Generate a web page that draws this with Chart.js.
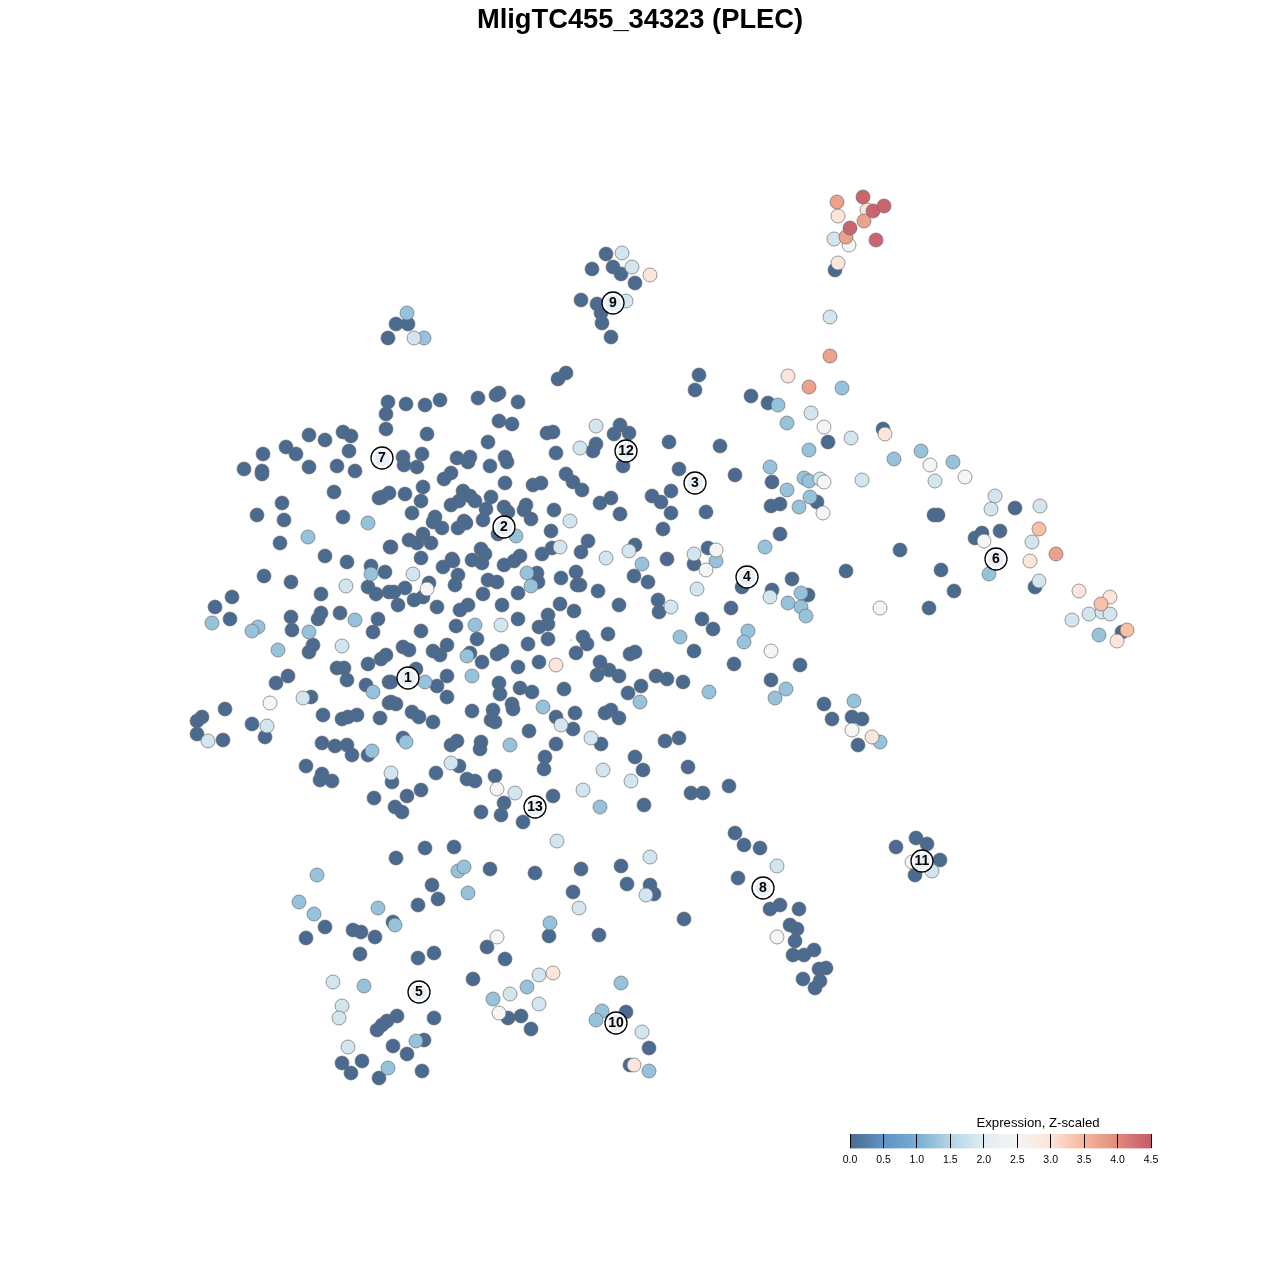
<!DOCTYPE html>
<html><head><meta charset="utf-8">
<style>html,body{margin:0;padding:0;background:#fff}canvas{position:absolute;display:block}</style>
<script src="https://cdn.jsdelivr.net/npm/chart.js@4/dist/chart.umd.min.js"></script>
</head><body>
<canvas id="main" width="1280" height="1280" style="left:0;top:0"></canvas>
<canvas id="cbar" width="416" height="59" style="left:830px;top:1112px"></canvas>
<script>
const chartTitle = "MligTC455_34323 (PLEC)";
const legendTitle = "Expression, Z-scaled";
const legendTicks = [0,0.5,1,1.5,2,2.5,3,3.5,4,4.5];
const legendColors = ["#4a6a90","#5f93c4","#78aed1","#b3d5e6","#e0ecf3","#f5f5f5","#fde3d8","#f5b79b","#e08a7c","#c45a6a"];
const clusterNames = ["1","2","3","4","5","6","7","8","9","10","11","12","13"];
const clusterX = [408,504,695,747,419,996,382,763,613,616,922,626,535];
const clusterY = [678,527,483,577,992,559,458,888,303,1023,861,451,807];
const seriesLevels = [0,1.25,1.85,2.5,2.95,3.4,3.75,4.4];
const expr005 = [[244,469],[263,454],[262,471],[262,474],[286,447],[296,454],[309,435],[325,440],[343,432],[351,436],[349,451],[309,467],[337,466],[355,471],[334,492],[379,498],[382,497],[282,503],[257,515],[284,520],[343,517],[280,543],[325,556],[347,562],[371,566],[385,572],[264,576],[291,582],[368,587],[376,594],[391,547],
[388,402],[406,404],[425,405],[440,400],[386,414],[386,429],[427,434],[478,398],[496,395],[499,393],[518,402],[499,421],[512,424],[547,433],[553,432],[488,442],[556,453],[403,457],[404,465],[422,454],[417,467],[457,458],[468,462],[470,457],[490,466],[505,457],[507,462],[566,474],[573,482],[451,473],[444,479],[505,483],[533,485],[541,483],[423,487],[389,493],[405,494],[421,501],[463,491],[470,496],[459,501],[451,505],[475,501],[491,497],[486,509],[504,507],[508,512],[526,505],[524,510],[531,519],[554,510],[412,513],[435,517],[433,522],[442,528],[458,528],[464,521],[466,523],[483,520],[498,534],[551,531],[423,534],[409,540],[417,543],[431,543],[390,547],[421,558],[443,567],[452,559],[453,561],[472,560],[481,549],[485,554],[482,563],[504,565],[514,561],[520,556],[542,554],[552,548],[458,575],[537,573],[561,578],[576,572],[488,580],[497,582],[429,583],
[620,425],[614,434],[629,433],[596,444],[593,451],[623,466],[669,442],[720,446],[679,469],[735,475],[671,491],[652,496],[661,502],[671,513],[706,512],[620,514],[611,498],[600,503],[582,490],[663,529],[588,541],[581,552],[635,545],[667,559],[708,548],[694,564],[580,585],[598,591],[634,576],[648,582],[658,600],[659,612],[619,605],[742,587],[772,590],[772,482],[771,506],[751,396],[768,403],
[232,597],[215,607],[230,619],[291,617],[292,630],[321,594],[318,619],[321,613],[340,613],[378,619],[373,632],[313,645],[309,652],[389,592],[337,668],[344,668],[347,680],[368,664],[381,659],[386,655],[288,676],[276,683],[366,685],[389,682],[311,697],[225,709],[202,717],[197,721],[197,734],[223,740],[252,724],[265,737],[323,715],[342,719],[348,717],[357,715],[380,718],[389,703],[322,743],[335,746],[347,745],[352,755],[368,755],[306,766],[322,774],[332,781],[320,780],
[455,585],[518,593],[483,594],[538,582],[577,585],[394,592],[405,588],[423,597],[414,600],[398,605],[437,607],[502,605],[468,605],[460,610],[456,626],[518,619],[560,604],[574,611],[548,615],[548,624],[539,627],[548,639],[528,644],[421,631],[477,639],[403,647],[409,650],[433,651],[440,655],[447,645],[470,653],[497,654],[502,651],[482,662],[539,662],[518,667],[416,669],[447,676],[437,686],[391,682],[499,683],[520,688],[532,692],[500,694],[564,689],[447,697],[391,702],[396,704],[512,704],[513,709],[412,712],[419,717],[433,722],[472,711],[493,710],[491,720],[495,722],[575,713],[556,717],[573,729],[529,731],[403,738],[556,744],[451,745],[457,741],[481,742],[480,749],[545,757],[544,769],[459,766],[436,773],
[702,619],[713,629],[731,608],[694,651],[734,664],[608,634],[583,637],[587,644],[576,653],[630,654],[635,652],[600,662],[609,670],[597,675],[619,676],[656,676],[667,679],[683,682],[641,686],[628,693],[605,713],[611,710],[619,718],[601,744],[665,741],[679,738],[635,757],[643,770],[688,767],[729,786],[691,793],[703,793],[771,680],
[374,798],[392,782],[407,796],[421,790],[395,807],[402,812],[467,779],[475,781],[495,776],[504,803],[501,815],[481,812],[523,822],[553,796],[644,805],[735,833],[744,845],[760,848],[738,878],[770,909],[780,905],[799,909],[790,925],[797,929],[795,941],[793,955],[804,955],[814,950],[826,968],[819,969],[820,981],[803,979],[815,988],
[396,858],[425,848],[454,847],[490,869],[535,873],[581,869],[621,866],[432,885],[418,905],[438,899],[573,892],[627,884],[650,885],[654,894],[684,919],[599,935],[549,936],[487,947],[505,959],[434,953],[418,958],[473,979],[375,937],[353,930],[361,932],[325,927],[306,938],[393,922],[360,954],[434,1018],[397,1016],[387,1021],[382,1025],[377,1030],[393,1046],[424,1040],[407,1054],[362,1061],[342,1063],[351,1073],[379,1078],[422,1071],[508,1018],[521,1016],[531,1029],[626,1012],[649,1048],[630,1065],
[606,254],[592,269],[613,267],[621,274],[635,283],[581,300],[597,304],[601,313],[602,323],[611,337],[396,324],[408,324],[388,338],[566,373],[558,379],[699,375],[695,390],[835,270],[828,442],[883,429],[780,504],[817,502],[780,534],[934,515],[938,515],[1015,508],[982,533],[975,538],[1000,531],[900,550],[846,571],[941,570],[954,591],[929,608],[1035,587],[1122,632],[792,579],[808,595],[800,665],[824,704],[832,719],[852,717],[862,719],[858,745],[916,838],[927,844],[896,847],[940,860],[915,875]];
const expr125 = [[308,537],[368,523],[371,574],[516,536],[527,573],[531,586],[642,564],[716,561],[770,467],[765,547],[212,623],[258,627],[252,631],[355,620],[309,632],[278,650],[373,692],[372,751],[475,625],[467,656],[472,676],[425,682],[543,707],[406,742],[510,745],[748,631],[744,642],[680,637],[640,702],[709,692],[786,689],[775,698],[600,807],[317,875],[299,902],[314,914],[378,908],[395,925],[364,986],[458,871],[464,867],[468,893],[550,923],[527,987],[493,999],[602,1011],[596,1020],[388,1068],[416,1041],[649,1071],[621,983],[407,313],[424,338],[842,388],[778,405],[787,423],[809,450],[894,459],[921,451],[953,462],[804,478],[787,490],[799,507],[810,497],[809,481],[989,574],[1099,635],[801,593],[788,603],[801,607],[806,616],[854,701],[880,742]];
const expr185 = [[346,586],[570,521],[560,547],[413,574],[596,426],[580,448],[629,551],[606,558],[694,554],[697,589],[770,597],[342,646],[303,698],[208,741],[267,726],[501,625],[561,725],[451,763],[391,773],[671,607],[591,738],[603,770],[631,781],[583,790],[515,793],[557,841],[650,857],[646,895],[579,908],[333,982],[342,1006],[339,1018],[348,1047],[510,994],[539,1004],[539,975],[642,1032],[622,253],[632,267],[626,301],[414,338],[834,239],[830,317],[811,413],[851,438],[862,480],[935,481],[820,479],[995,496],[991,509],[1040,506],[1032,542],[1039,581],[1072,620],[1089,614],[1102,612],[1110,614],[777,866],[932,871]];
const expr250 = [[427,589],[716,550],[706,570],[270,703],[771,651],[497,789],[777,937],[497,937],[499,1013],[849,245],[824,427],[930,465],[965,477],[824,482],[823,513],[984,541],[880,608],[852,730],[912,862]];
const expr295 = [[556,665],[553,973],[634,1065],[650,275],[838,216],[867,210],[838,263],[788,376],[885,434],[1030,561],[1079,591],[1110,597],[1117,641],[872,737]];
const expr340 = [[1039,529],[1101,604],[1127,630]];
const expr375 = [[837,202],[864,221],[846,237],[830,356],[809,387],[1056,554]];
const expr440 = [[863,197],[873,211],[884,206],[850,228],[876,240]];
const speckX = [571];
const speckY = [640];

const seriesPoints = [expr005,expr125,expr185,expr250,expr295,expr340,expr375,expr440];
function colorFor(v){
  const t=Math.max(0,Math.min(legendColors.length-1.001,v/0.5)), i=Math.floor(t), f=t-i;
  const h=c=>[1,3,5].map(k=>parseInt(c.substr(k,2),16));
  const a=h(legendColors[i]), b=h(legendColors[i+1]);
  return "rgb("+a.map((p,k)=>Math.round(p+(b[k]-p)*f)).join(",")+")";
}
const datasets = seriesPoints.map((pts,i)=>({
  label:"z"+seriesLevels[i],
  data:pts.map(p=>({x:p[0],y:p[1]})),
  backgroundColor:colorFor(seriesLevels[i]),
  borderColor:"rgba(105,105,105,0.65)",
  borderWidth:1,
  pointRadius:7,
  order:100-i
}));
datasets.push({label:"speck",data:speckX.map((x,i)=>({x,y:speckY[i]})),backgroundColor:"#34527a",borderWidth:0,pointRadius:0.6,order:50});
const clusterData = clusterX.map((x,i)=>({x,y:clusterY[i]}));
datasets.push({label:"clusterRing",data:clusterData,backgroundColor:"#fff",borderColor:"#000",borderWidth:1.3,pointRadius:11,order:3});
datasets.push({label:"clusterCore",data:clusterData,backgroundColor:"#e8eff5",borderWidth:0,pointRadius:8,order:2});

const clusterText = {id:"clusterText",afterDatasetsDraw(c){
  const g=c.ctx; g.save();
  g.font='bold 14px "Liberation Sans"'; g.fillStyle="#000"; g.textAlign="center"; g.textBaseline="middle";
  clusterNames.forEach((s,i)=>g.fillText(s,c.scales.x.getPixelForValue(clusterX[i]),c.scales.y.getPixelForValue(clusterY[i])+0.5));
  g.restore();
}};
Chart.defaults.font.family='"Liberation Sans"';
new Chart(document.getElementById("main"),{
  type:"scatter",
  data:{datasets},
  plugins:[clusterText],
  options:{
    responsive:false,animation:false,events:[],
    layout:{padding:0,autoPadding:false},
    plugins:{legend:{display:false},tooltip:{enabled:false},
      title:{display:true,text:chartTitle,color:"#000",padding:{top:4,bottom:0},font:{size:27.3,weight:"bold",lineHeight:32/27.3}}},
    scales:{
      x:{type:"linear",display:false,min:0,max:1280},
      y:{type:"linear",display:false,min:36,max:1280,reverse:true}
    }
  }
});
const barGradient = {id:"barGradient",beforeDatasetsDraw(c){
  const a=c.chartArea,g=c.ctx,gr=g.createLinearGradient(a.left,0,a.right,0);
  legendColors.forEach((col,i)=>gr.addColorStop(i/(legendColors.length-1),col));
  g.save(); g.fillStyle=gr; g.fillRect(a.left,a.top,a.right-a.left,a.bottom-a.top); g.restore();
}};
const gutter = w => ({display:true,min:0,max:1,ticks:{display:false},grid:{display:false},border:{display:false},afterFit(s){s.width=w;}});
new Chart(document.getElementById("cbar"),{
  type:"scatter",
  data:{datasets:[{data:[]}]},
  plugins:[barGradient],
  options:{
    responsive:false,animation:false,events:[],
    layout:{padding:0,autoPadding:false},
    plugins:{legend:{display:false},tooltip:{enabled:false},
      title:{display:true,text:legendTitle,color:"#000",align:"center",padding:0,font:{size:13.2,weight:"normal",lineHeight:22/13.2}}},
    scales:{
      x:{type:"linear",min:legendTicks[0],max:legendTicks[legendTicks.length-1],
         afterBuildTicks(s){s.ticks=legendTicks.map(v=>({value:v}));},
         border:{display:false},
         grid:{color:"#000",lineWidth:1,drawTicks:false,tickLength:0,z:1},
         ticks:{color:"#000",padding:5,maxRotation:0,autoSkip:false,font:{size:10.5},callback:v=>v.toFixed(1)}},
      y:{...gutter(20),position:"left"},
      y2:{...gutter(95),position:"right"}
    }
  }
});
</script>
</body></html>
